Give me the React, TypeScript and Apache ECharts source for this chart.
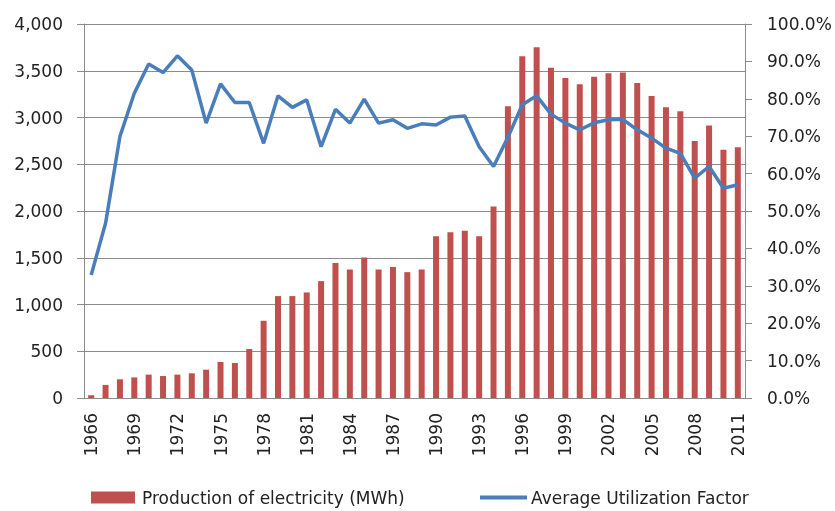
import React, { useEffect, useRef } from "react";
import * as echarts from "echarts";

const years: string[] = [];
for (let y = 1966; y <= 2011; y++) years.push(String(y));

const production = [
  30, 140, 200, 220, 250, 235, 250, 264, 303, 385,
  374, 524, 826, 1090, 1090, 1129, 1250, 1443, 1375, 1503,
  1375, 1400, 1346, 1375, 1731, 1774, 1788, 1731, 2048, 3120,
  3655, 3751, 3533, 3423, 3355, 3437, 3473, 3480, 3370, 3231,
  3110, 3067, 2750, 2914, 2654, 2682,
];

const utilization = [
  32.9, 46.7, 69.9, 81.5, 89.3, 87.0, 91.5, 87.7, 73.5, 84.0,
  79.0, 79.0, 68.1, 80.8, 77.7, 79.7, 67.2, 77.2, 73.5, 79.9,
  73.5, 74.4, 72.1, 73.3, 73.0, 75.1, 75.4, 67.2, 61.9, 69.7,
  78.4, 80.8, 75.9, 73.5, 71.7, 73.6, 74.4, 74.5, 71.7, 69.5,
  66.8, 65.4, 58.8, 61.9, 56.1, 57.0,
];

const BAR_NAME = "Production of electricity (MWh)";
const LINE_NAME = "Average Utilization Factor";

export default function App() {
  const ref = useRef<HTMLDivElement>(null);
  useEffect(() => {
    if (!ref.current) return;
    const chart = echarts.init(ref.current, null, { renderer: "svg" });
    const font = "DejaVu Sans";
    const textColor = "#222";
    const gridColor = "#8c8c8c";
    const fs = 17;
    chart.setOption({
      animation: false,
      textStyle: { fontFamily: font },
      grid: { left: 84, right: 90, top: 24, bottom: 113, containLabel: false },
      legend: [
        {
          data: [{ name: BAR_NAME, icon: "rect" }],
          left: 86,
          top: 484,
          itemWidth: 44,
          itemHeight: 12,
          textStyle: { fontFamily: font, fontSize: fs, color: textColor, padding: [0, 0, 0, 2] },
        },
        {
          data: [{ name: LINE_NAME, icon: "path://M0,0H60V5H0Z" }],
          left: 475,
          top: 484,
          itemWidth: 47,
          itemHeight: 4,
          itemStyle: { color: "#4A7EBB" },
          textStyle: { fontFamily: font, fontSize: fs, color: textColor, padding: [0, 0, 0, -1] },
        },
      ],
      xAxis: {
        type: "category",
        data: years,
        boundaryGap: true,
        axisLine: { lineStyle: { color: gridColor } },
        axisTick: { interval: 2, length: 7, lineStyle: { color: gridColor } },
        axisLabel: {
          interval: 2,
          rotate: 90,
          fontSize: fs,
          color: textColor,
          fontFamily: font,
          margin: 15,
        },
      },
      yAxis: [
        {
          type: "value",
          min: 0,
          max: 4000,
          interval: 500,
          axisLine: { show: true, lineStyle: { color: gridColor } },
          axisTick: { show: true, length: 7, lineStyle: { color: gridColor } },
          splitLine: { lineStyle: { color: gridColor } },
          axisLabel: {
            fontSize: fs,
            color: textColor,
            fontFamily: font,
            margin: 21,
            formatter: (v: number) => v.toLocaleString("en-US"),
          },
        },
        {
          type: "value",
          min: 0,
          max: 100,
          interval: 10,
          position: "right",
          axisLine: { show: true, lineStyle: { color: gridColor } },
          axisTick: { show: true, length: 7, lineStyle: { color: gridColor } },
          splitLine: { show: false },
          axisLabel: {
            fontSize: fs,
            color: textColor,
            fontFamily: font,
            margin: 22,
            formatter: (v: number) => v.toFixed(1) + "%",
          },
        },
      ],
      series: [
        {
          name: BAR_NAME,
          type: "bar",
          data: production,
          barWidth: 6,
          itemStyle: { color: "#C0504D" },
        },
        {
          name: LINE_NAME,
          type: "line",
          yAxisIndex: 1,
          data: utilization,
          symbol: "none",
          lineStyle: { color: "#4A7EBB", width: 3.5 },
          itemStyle: { color: "#4A7EBB" },
        },
      ],
    });
    return () => chart.dispose();
  }, []);
  return (
    <div
      ref={ref}
      style={{ position: "fixed", left: 0, top: 0, width: 835, height: 511 }}
    />
  );
}
